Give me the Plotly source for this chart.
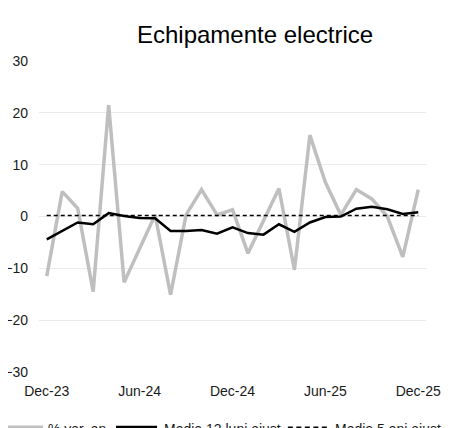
import plotly.graph_objects as go

months = ["Dec-23", "Jan-24", "Feb-24", "Mar-24", "Apr-24", "May-24", "Jun-24", "Jul-24",
          "Aug-24", "Sep-24", "Oct-24", "Nov-24", "Dec-24", "Jan-25", "Feb-25", "Mar-25",
          "Apr-25", "May-25", "Jun-25", "Jul-25", "Aug-25", "Sep-25", "Oct-25", "Nov-25", "Dec-25"]
var_an = [-11.5, 4.8, 1.6, -14.5, 21.5, -12.7, -6.2, 0.3, -15.1, 0.3, 5.2, 0.3, 1.3,
          -7.1, -0.8, 5.4, -10.3, 15.7, 6.6, 0.3, 5.2, 3.4, 0.0, -7.8, 5.2]
medie_12 = [-4.4, -2.7, -1.15, -1.5, 0.65, 0.1, -0.3, -0.35, -2.8, -2.8, -2.6, -3.3, -2.1,
            -3.2, -3.5, -1.5, -2.95, -1.15, -0.1, 0.0, 1.5, 1.9, 1.4, 0.5, 0.8]
medie_5 = [0.2] * 25
tick_labels = ["Dec-23", "Jun-24", "Dec-24", "Jun-25", "Dec-25"]
series_names = ["% var. an", "Medie 12 luni ajust.", "Medie 5 ani ajust."]

FONT = "Arial, Liberation Sans, sans-serif"

styles = [dict(color="#BFBFBF", width=3.5),
          dict(color="#000000", width=2.5),
          dict(color="#000000", width=1.5, dash="4px,3px")]

fig = go.Figure()
for name, vals, st in zip(series_names, [var_an, medie_12, medie_5], styles):
    fig.add_trace(go.Scatter(x=months, y=vals, mode="lines", name=name, line=st,
                             showlegend=False))

# manual legend (horizontal, partly below the visible page as in the reference)
leg_y = -0.178
sym_x = [(-0.101, 0.0103), (0.199, 0.305), (0.643, 0.752)]
txt_x = [0.0181, 0.3178, 0.7597]
sym_styles = [dict(color="#BFBFBF", width=3.5),
              dict(color="#000000", width=3),
              dict(color="#000000", width=1.5, dash="5px,3.5px")]
for (x0, x1), tx, name, st in zip(sym_x, txt_x, series_names, sym_styles):
    fig.add_shape(type="line", xref="paper", yref="paper", x0=x0, x1=x1,
                  y0=leg_y, y1=leg_y, line=st)
    fig.add_annotation(text=name, xref="paper", yref="paper", x=tx, y=leg_y - 0.006,
                       xanchor="left", yanchor="middle", showarrow=False,
                       font=dict(size=14, color="#1a1a1a"))

fig.update_layout(
    width=443, height=420,
    margin=dict(l=31, r=25, t=53, b=56, autoexpand=False),
    paper_bgcolor="white", plot_bgcolor="white",
    font=dict(family=FONT, size=14, color="#1a1a1a"),
    title=dict(text="Echipamente electrice", x=0.5576, xanchor="center",
               y=0.9357, yanchor="middle", font=dict(size=24, color="#000000")),
    showlegend=False,
    xaxis=dict(type="category", range=[-0.5, 24.5], tickvals=tick_labels,
               showgrid=False, zeroline=False, showline=False, ticks="",
               ticklabelstandoff=9),
    yaxis=dict(range=[-30, 30], dtick=10, showgrid=True, gridcolor="#EBEBEB",
               gridwidth=1, zeroline=False, showline=False, ticks="",
               ticklabelstandoff=10),
)

fig.write_html("out.html")
